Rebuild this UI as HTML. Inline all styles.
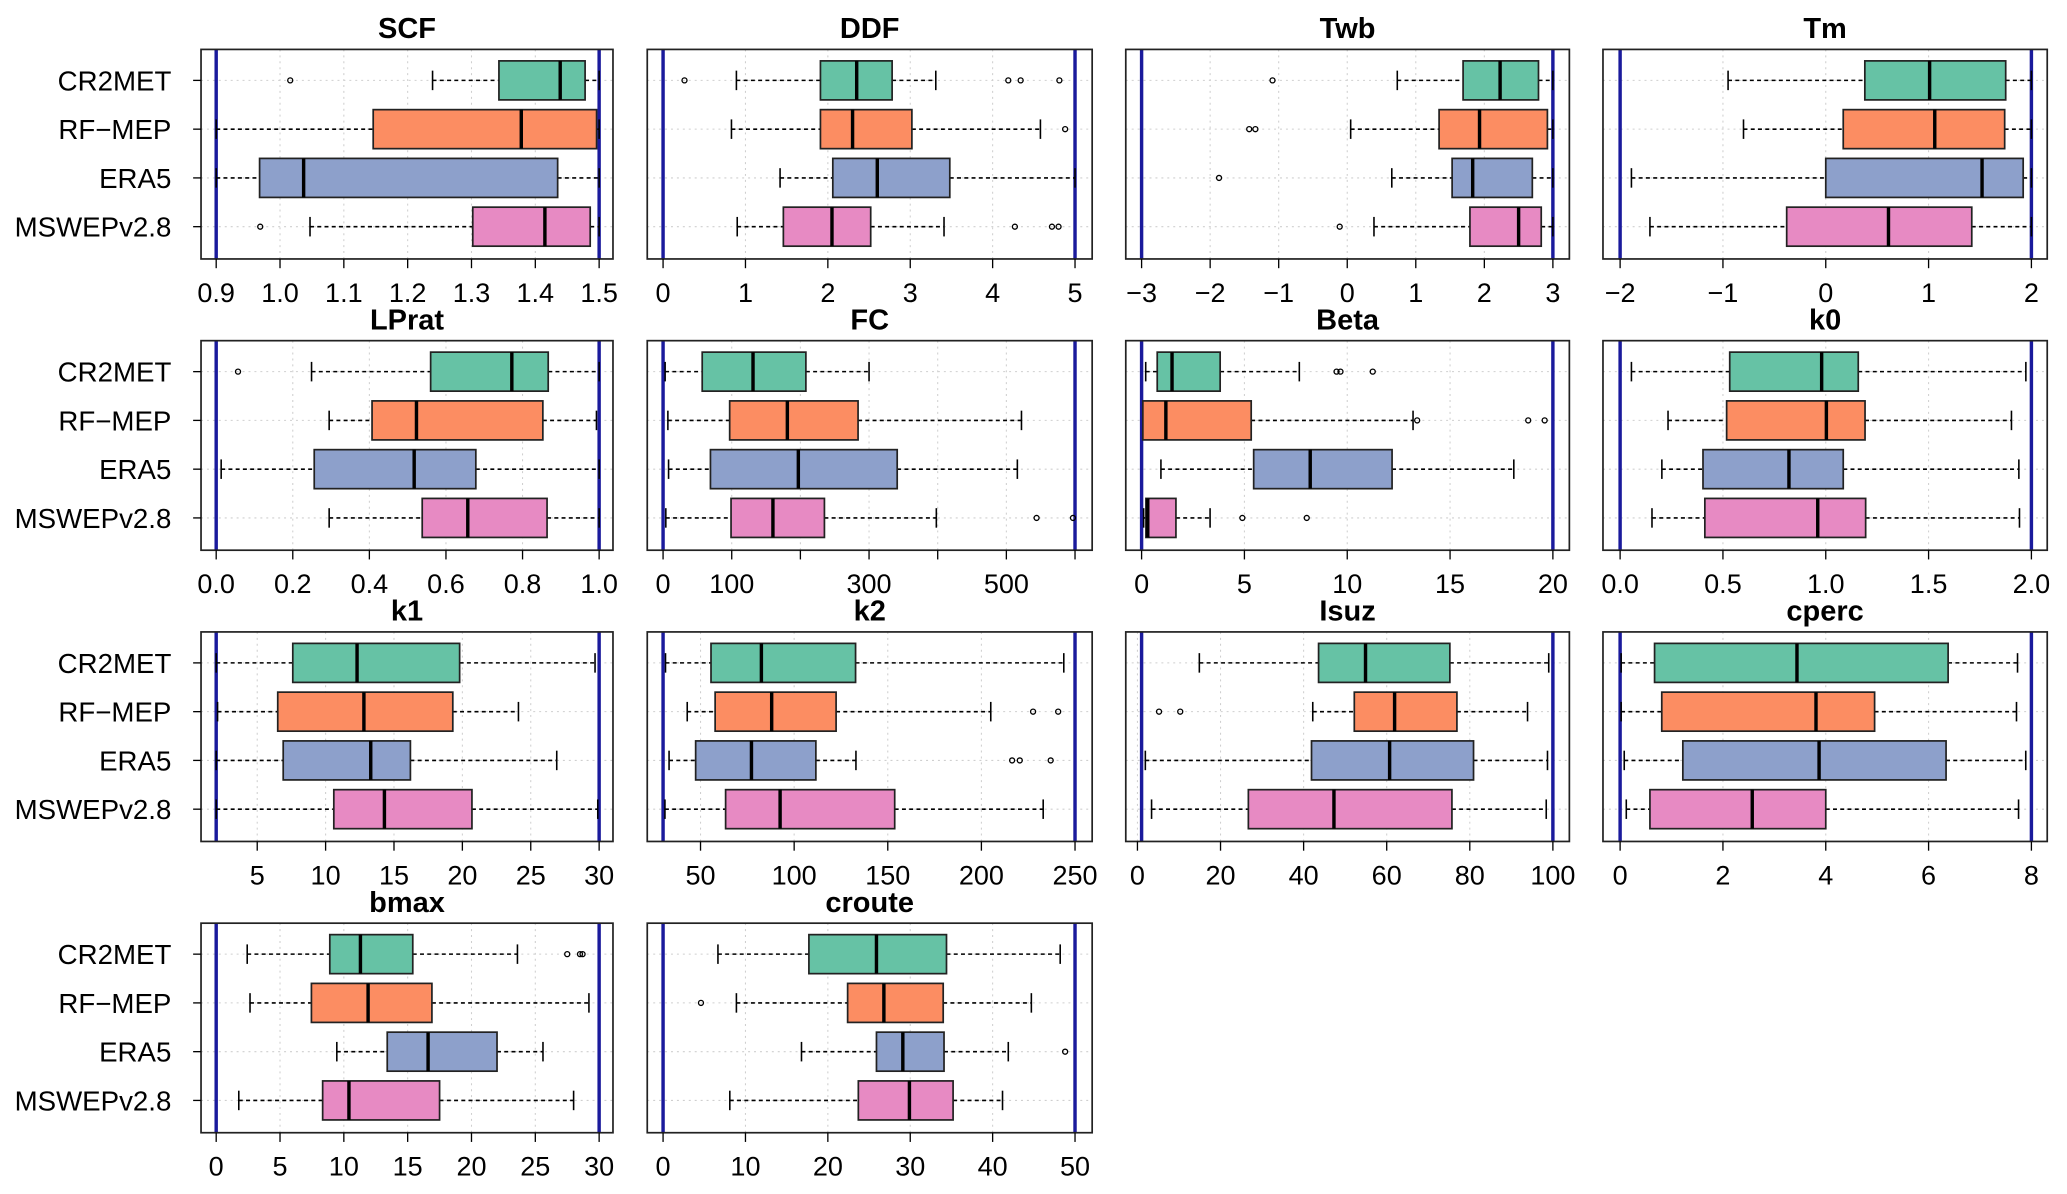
<!DOCTYPE html>
<html>
<head>
<meta charset="utf-8">
<style>
  html,body{margin:0;padding:0;background:#fff;}
  svg{display:block;}
  text{font-family:"Liberation Sans",Arial,sans-serif;fill:#000;}
</style>
</head>
<body>
<svg id="chart" xmlns="http://www.w3.org/2000/svg" width="2067" height="1194" viewBox="0 0 1568 906" preserveAspectRatio="none"></svg>
<script>
// ---- data ----
const categories = ["CR2MET", "RF\u2212MEP", "ERA5", "MSWEPv2.8"];
const colors = ["#66c2a5", "#fc8d62", "#8da0cb", "#e78ac3"];
const panelNames = ["SCF","DDF","Twb","Tm","LPrat","FC","Beta","k0","k1","k2","Isuz","cperc","bmax","croute"];
const axisLimits = [[0.9,1.5],[0,5],[-3,3],[-2,2],[0,1],[0,600],[0,20],[0,2],[2,30],[30,250],[1,100],[0,8],[0,30],[0,50]];
const tickValues = [
  [0.9,1.0,1.1,1.2,1.3,1.4,1.5],[0,1,2,3,4,5],[-3,-2,-1,0,1,2,3],[-2,-1,0,1,2],
  [0,0.2,0.4,0.6,0.8,1.0],[0,100,200,300,400,500,600],[0,5,10,15,20],[0,0.5,1,1.5,2],
  [5,10,15,20,25,30],[50,100,150,200,250],[0,20,40,60,80,100],[0,2,4,6,8],
  [0,5,10,15,20,25,30],[0,10,20,30,40,50]];
const tickLabels = [
  ["0.9","1.0","1.1","1.2","1.3","1.4","1.5"],["0","1","2","3","4","5"],["\u22123","\u22122","\u22121","0","1","2","3"],["\u22122","\u22121","0","1","2"],
  ["0.0","0.2","0.4","0.6","0.8","1.0"],["0","100","","300","","500",""],["0","5","10","15","20"],["0.0","0.5","1.0","1.5","2.0"],
  ["5","10","15","20","25","30"],["50","100","150","200","250"],["0","20","40","60","80","100"],["0","2","4","6","8"],
  ["0","5","10","15","20","25","30"],["0","10","20","30","40","50"]];
// per panel: [CR2MET, RF-MEP, ERA5, MSWEPv2.8]
const whiskerLow = [
  [1.239,0.9,0.9,1.047],[0.89,0.83,1.42,0.9],[0.73,0.05,0.65,0.39],[-0.95,-0.8,-1.89,-1.71],
  [0.249,0.295,0.013,0.295],[3,7,8,4],[0.2,0.06,0.94,0.1],[0.055,0.233,0.203,0.155],
  [2,2.1,2,2],[31.3,42.9,33.2,31],[14.9,42.2,1.9,3.4],[0.02,0.02,0.08,0.12],
  [2.43,2.65,9.45,1.77],[6.66,8.9,16.8,8.1]];
const quartile1 = [
  [1.343,1.146,0.968,1.302],[1.91,1.91,2.06,1.46],[1.69,1.34,1.53,1.79],[0.38,0.17,0,-0.38],
  [0.56,0.407,0.256,0.538],[57,97,69,99],[0.76,0.06,5.45,0.21],[0.533,0.518,0.403,0.412],
  [7.6,6.5,6.9,10.6],[55.6,57.8,47.4,63.4],[43.6,52.2,41.9,26.7],[0.67,0.81,1.22,0.58],
  [8.9,7.46,13.4,8.34],[17.7,22.4,25.9,23.7]];
const medians = [
  [1.439,1.378,1.037,1.415],[2.35,2.30,2.6,2.05],[2.23,1.93,1.83,2.5],[1.01,1.06,1.52,0.61],
  [0.772,0.523,0.517,0.657],[131,181,197,160],[1.48,1.18,8.2,0.3],[0.98,1.003,0.821,0.961],
  [12.3,12.8,13.3,14.3],[82.5,88,77.2,92.5],[54.9,61.9,60.7,47.3],[3.44,3.81,3.87,2.57],
  [11.3,11.9,16.6,10.4],[25.9,26.8,29.1,29.9]];
const quartile3 = [
  [1.478,1.496,1.435,1.486],[2.78,3.02,3.48,2.52],[2.79,2.92,2.7,2.83],[1.75,1.74,1.92,1.42],
  [0.867,0.853,0.678,0.864],[208,284,341,235],[3.82,5.33,12.18,1.67],[1.158,1.191,1.085,1.194],
  [19.8,19.3,16.2,20.7],[132.8,122.4,111.6,153.7],[75.2,76.9,80.9,75.7],[6.38,4.95,6.34,4.0],
  [15.4,16.9,22.0,17.5],[34.4,34.0,34.1,35.2]];
const whiskerHigh = [
  [1.5,1.5,1.5,1.5],[3.31,4.58,5.0,3.41],[3,3,3,3],[2,2,2,2],
  [1.0,0.993,1.0,1.0],[300,522,516,398],[7.67,13.2,18.1,3.33],[1.973,1.903,1.939,1.942],
  [29.7,24.1,26.9,29.9],[244,205,133,233],[99,93.9,98.7,98.4],[7.73,7.71,7.89,7.75],
  [23.6,29.2,25.6,28.0],[48.2,44.7,41.9,41.2]];
const outliers = [
  [[1.016],[],[],[0.969]],
  [[0.26,4.19,4.34,4.81],[4.88],[],[4.27,4.72,4.8]],
  [[-1.09],[-1.43,-1.34],[-1.87],[-0.11]],
  [[],[],[],[]],
  [[0.057],[],[],[]],
  [[],[],[],[544,597]],
  [[9.48,9.67,11.24],[13.4,18.8,19.6],[],[4.9,8.03]],
  [[],[],[],[]],
  [[],[],[],[]],
  [[],[227.6,241],[216.4,220.5,237],[]],
  [[],[5.2,10.3],[],[]],
  [[],[],[],[]],
  [[27.5,28.5,28.7],[],[],[]],
  [[],[4.6],[48.8],[]]];

// ---- layout (viewBox units) ----
const colBox = [[152.5,465],[491,828.5],[854,1190.5],[1216,1553]];
const colLim = [[164,454.5],[503,815.5],[866,1178],[1229,1541]];
const rowCat1 = [61,282,503,724];
const catStep = 37, halfBox = 14.8;

const svg = document.getElementById('chart');
const NS = 'http://www.w3.org/2000/svg';
function mk(tag, attrs, parent){
  const e = document.createElementNS(NS, tag);
  for (const k in attrs) e.setAttribute(k, attrs[k]);
  (parent||svg).appendChild(e);
  return e;
}

panelNames.forEach((name, p) => {
  const col = p % 4, row = Math.floor(p / 4);
  const [bx0, bx1] = colBox[col];
  const [px0, px1] = colLim[col];
  const [lo, hi] = axisLimits[p];
  const xs = v => px0 + (v - lo) / (hi - lo) * (px1 - px0);
  const yc = i => rowCat1[row] + i * catStep;
  const top = rowCat1[row] - 23.5, bottom = rowCat1[row] + 3 * catStep + 24.5;

  const g = mk('g', {});
  
  

  const t = mk('text', {x:(bx0+bx1)/2, y:top-8.5, 'text-anchor':'middle', 'font-size':22, 'font-weight':'bold'}, g);
  t.textContent = name;
  
  

  tickValues[p].forEach(v => {
    const x = xs(v);
    if (x > bx0 && x < bx1) {
      const gl = mk('line', {x1:x, x2:x, y1:top, y2:bottom, stroke:'#cfcfcf', 'stroke-width':0.8, 'stroke-dasharray':'1.5,3'}, g);
      
      
    }
  });
  categories.forEach((c, i) => {
    const hl = mk('line', {x1:bx0, x2:bx1, y1:yc(i), y2:yc(i), stroke:'#cfcfcf', 'stroke-width':0.8, 'stroke-dasharray':'1.5,3'}, g);
    
    
  });

  [lo, hi].forEach(v => {
    const bl = mk('line', {x1:xs(v), x2:xs(v), y1:top, y2:bottom, stroke:'#1a1a9c', 'stroke-width':2.6}, g);
    
    
  });

  categories.forEach((c, i) => {
    const y = yc(i);
    const bg = mk('g', {}, g);
    
    
    const capH = halfBox / 2;
    mk('line', {x1:xs(whiskerLow[p][i]), x2:xs(quartile1[p][i]), y1:y, y2:y, stroke:'#000', 'stroke-width':1.2, 'stroke-dasharray':'3,2.5'}, bg);
    mk('line', {x1:xs(quartile3[p][i]), x2:xs(whiskerHigh[p][i]), y1:y, y2:y, stroke:'#000', 'stroke-width':1.2, 'stroke-dasharray':'3,2.5'}, bg);
    mk('line', {x1:xs(whiskerLow[p][i]), x2:xs(whiskerLow[p][i]), y1:y-capH, y2:y+capH, stroke:'#000', 'stroke-width':1.2}, bg);
    mk('line', {x1:xs(whiskerHigh[p][i]), x2:xs(whiskerHigh[p][i]), y1:y-capH, y2:y+capH, stroke:'#000', 'stroke-width':1.2}, bg);
    mk('rect', {x:xs(quartile1[p][i]), y:y-halfBox, width:xs(quartile3[p][i])-xs(quartile1[p][i]), height:2*halfBox, fill:colors[i], stroke:'#222', 'stroke-width':1.3}, bg);
    mk('line', {x1:xs(medians[p][i]), x2:xs(medians[p][i]), y1:y-halfBox, y2:y+halfBox, stroke:'#000', 'stroke-width':2.6}, bg);
    outliers[p][i].forEach(v => {
      const o = mk('circle', {cx:xs(v), cy:y, r:1.9, fill:'none', stroke:'#000', 'stroke-width':1}, bg);
      
      
    });
  });

  const fr = mk('rect', {x:bx0, y:top, width:bx1-bx0, height:bottom-top, fill:'none', stroke:'#222', 'stroke-width':1.3}, g);
  
  

  tickValues[p].forEach((v, k) => {
    const x = xs(v);
    mk('line', {x1:x, x2:x, y1:bottom, y2:bottom+7, stroke:'#000', 'stroke-width':1}, g);
    if (tickLabels[p][k] !== '') {
      const tl = mk('text', {x:x, y:bottom+32.5, 'text-anchor':'middle', 'font-size':20.5}, g);
      tl.textContent = tickLabels[p][k];
      
      
    }
  });

  if (col === 0) {
    categories.forEach((c, i) => {
      mk('line', {x1:bx0-6, x2:bx0, y1:yc(i), y2:yc(i), stroke:'#000', 'stroke-width':1}, g);
      const yl = mk('text', {x:130, y:yc(i)+7.5, 'text-anchor':'end', 'font-size':21}, g);
      yl.textContent = c;
      
      
    });
  }
});
</script>
</body>
</html>
